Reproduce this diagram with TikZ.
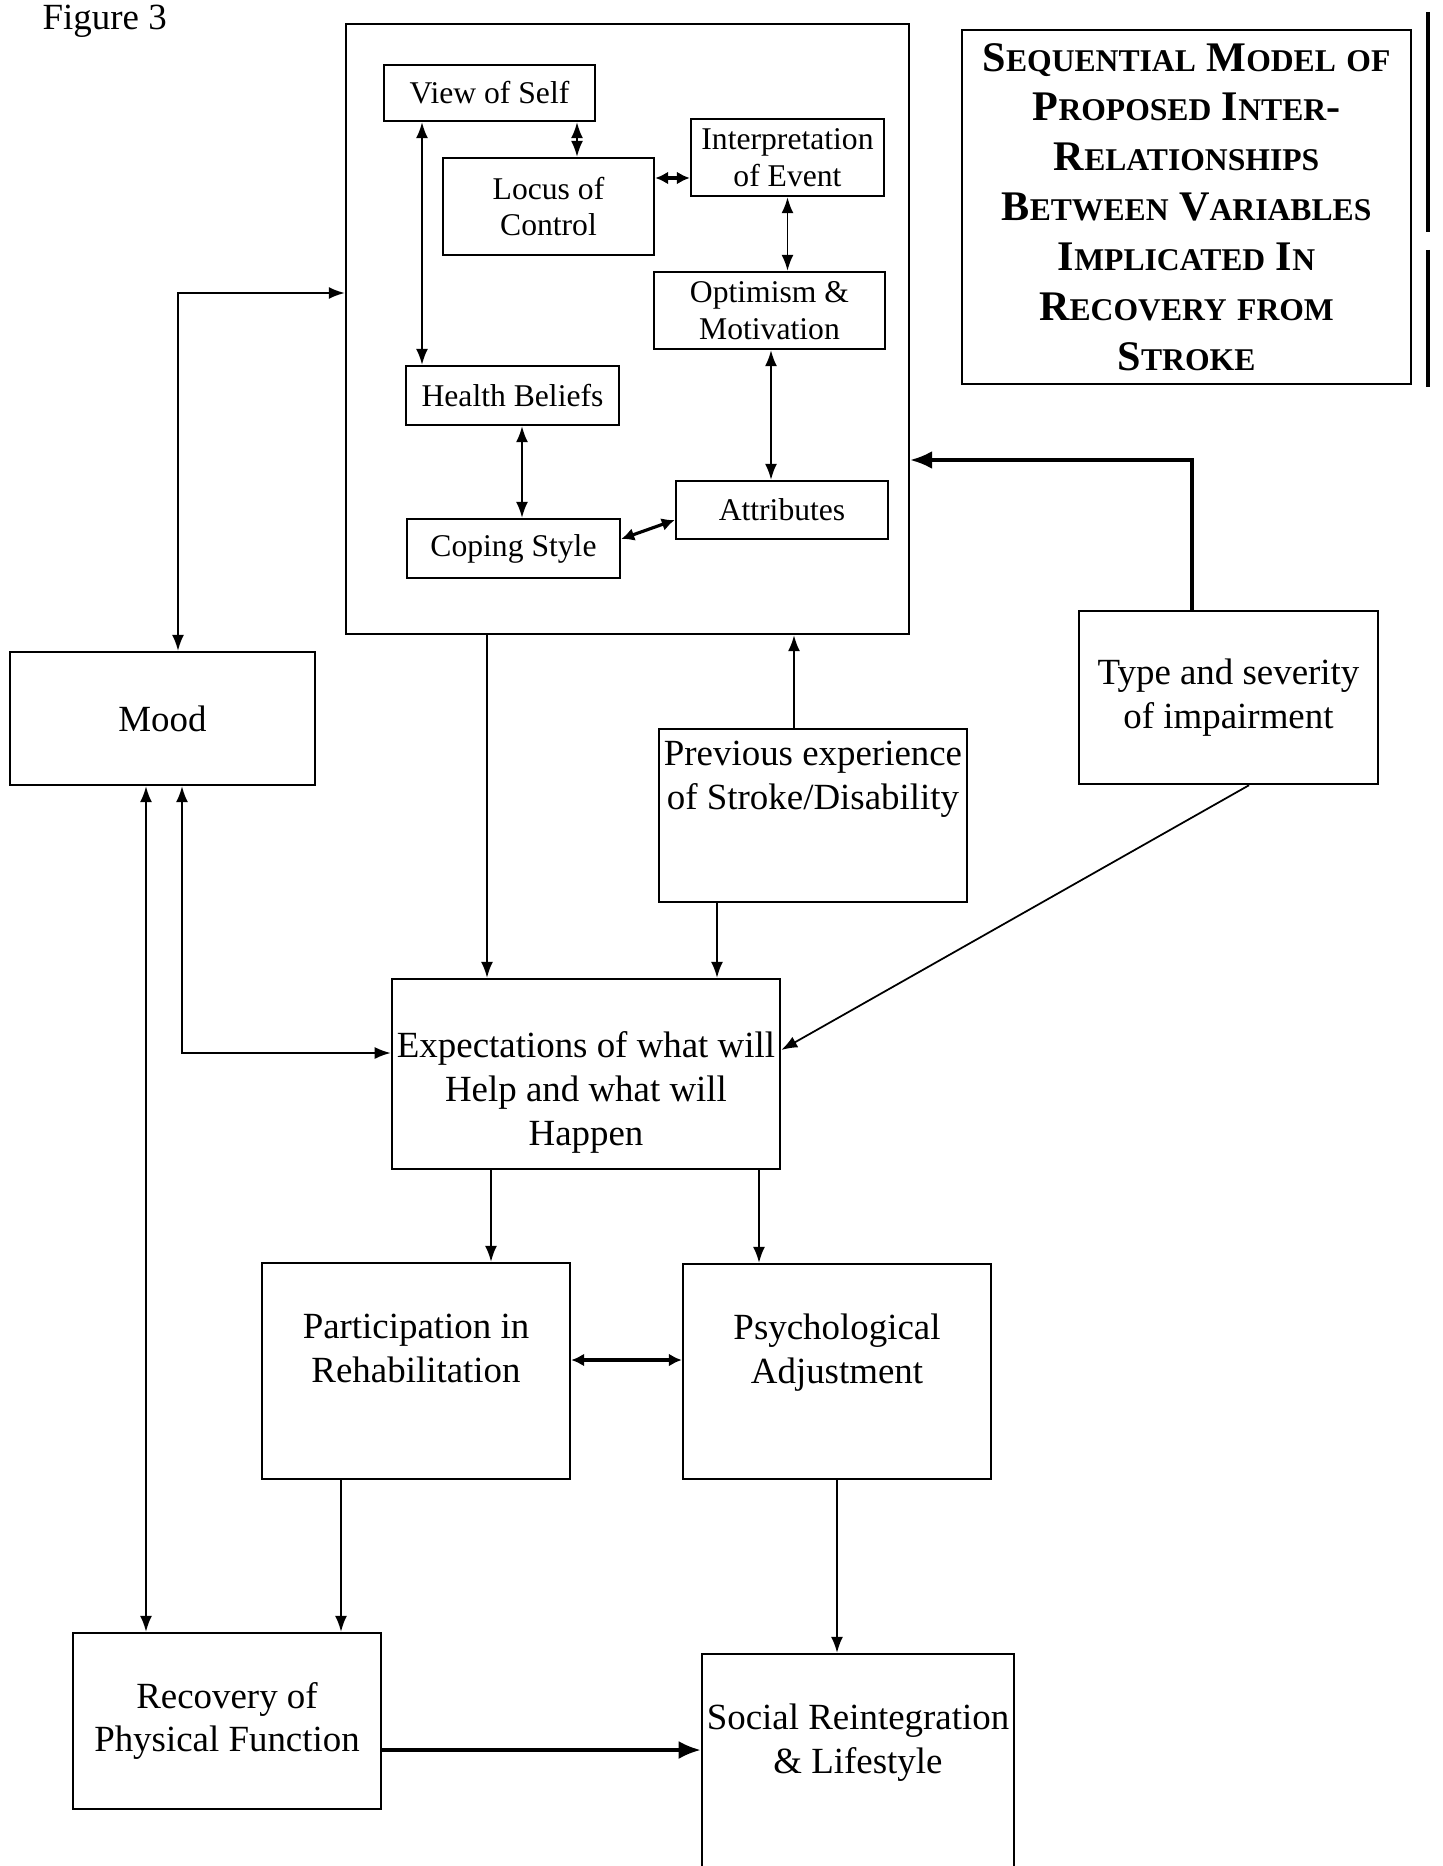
\documentclass[tikz,border=0pt]{standalone}
\usepackage{fontspec}
\setmainfont{Liberation Serif}
\usetikzlibrary{arrows.meta}
\newcommand{\tcap}[2]{{\fontsize{12}{14.2}\selectfont #1}{\fontsize{9}{14.2}\selectfont #2}}
\tikzset{
    boxbase/.style={draw=black, line width=0.7pt, align=center, inner sep=0.5mm},
    smallbox/.style={boxbase, rectangle, font=\fontsize{9}{10.5}\selectfont},
    bigbox/.style={boxbase, rectangle, font=\fontsize{10.5}{12.5}\selectfont},
    titlebox/.style={draw=black, line width=0.5pt, align=center, font=\bfseries\fontsize{12}{14.2}\selectfont},
    arrow-line/.style={draw=black, line width=0.5pt, -{Latex[length=1.6mm,width=1.2mm]}},
    both-line/.style={draw=black, line width=0.5pt, {Latex[length=1.6mm,width=1.2mm]}-{Latex[length=1.6mm,width=1.2mm]}},
    heavy-line/.style={draw=black, line width=0.9pt, -{Latex[length=2.2mm,width=1.8mm]}},
    heavy-both/.style={draw=black, line width=0.9pt, {Latex[length=1.3mm,width=1.3mm]}-{Latex[length=1.3mm,width=1.3mm]}}
}
\begin{document}
\begin{tikzpicture}[x=0.1mm, y=-0.1mm]
    \useasboundingbox (0,0) rectangle (1443,1866);
    \node [anchor=base west, inner sep=0pt, font=\fontsize{10.5}{12}\selectfont] (FigNum) at (42,30) {Figure 3};

    % beliefs frame and its inner boxes
    \node [boxbase, minimum width=56.3mm, minimum height=61mm] (Core) at (627.5,329) {};
    \node [smallbox, minimum width=21.1mm, minimum height=5.6mm] (Self) at (489.5,93) {View of Self};
    \node [smallbox, minimum width=21.1mm, minimum height=9.7mm] (Locus) at (548.5,206.5) {Locus of\\Control};
    \node [smallbox, minimum width=19.3mm, minimum height=7.7mm] (Interp) at (787.5,157.5) {Interpretation\\of Event};
    \node [smallbox, minimum width=23.1mm, minimum height=7.7mm] (Optim) at (769.5,310.5) {Optimism \&\\Motivation};
    \node [smallbox, minimum width=21.3mm, minimum height=5.9mm] (Health) at (512.5,395.5) {Health Beliefs};
    \node [smallbox, minimum width=21.3mm, minimum height=5.9mm] (Coping) at (513.5,548.5) {Coping Style};
    \node [smallbox, minimum width=21.2mm, minimum height=5.8mm] (Attrib) at (782,510) {Attributes};

    \draw [both-line] ([xshift=-6.75mm]Self.south) -- ([xshift=-6.75mm]Self.south |- Health.north);
    \draw [both-line] ([xshift=8.75mm]Self.south) -- ([xshift=8.75mm]Self.south |- Locus.north);
    \draw [heavy-both] ([yshift=2.85mm]Locus.east) -- ([yshift=2.85mm]Locus.east -| Interp.west);
    \draw [both-line] (Interp.south) -- (Interp.south |- Optim.north);
    \draw [both-line] ([xshift=0.15mm]Optim.south) -- ([xshift=0.15mm]Optim.south |- Attrib.north);
    \draw [both-line] ([xshift=0.95mm]Health.south) -- ([xshift=0.95mm]Health.south |- Coping.north);
    \draw [heavy-both] ([yshift=0.95mm]Coping.east) -- ([yshift=-1mm]Attrib.west);

    % title
    \node [titlebox, minimum width=44.9mm, minimum height=35.4mm] (Title) at (1186.5,207)
        {\tcap{S}{EQUENTIAL} \tcap{M}{ODEL} \tcap{}{OF}\\
         \tcap{P}{ROPOSED} \tcap{I}{NTER}-\\
         \tcap{R}{ELATIONSHIPS}\\
         \tcap{B}{ETWEEN} \tcap{V}{ARIABLES}\\
         \tcap{I}{MPLICATED} \tcap{I}{N}\\
         \tcap{R}{ECOVERY} \tcap{}{FROM}\\
         \tcap{S}{TROKE}};
    \draw [line width=1.3pt] (1428,12) -- (1428,232);
    \draw [line width=1.3pt] (1428,250) -- (1428,387);

    % outer boxes
    \node [bigbox, minimum width=30.5mm, minimum height=13.3mm] (Mood) at (162.5,718.5) {Mood};
    \node [bigbox, minimum width=29.9mm, minimum height=17.3mm] (Impair) at (1228.5,697.5) {Type and severity\\of impairment};
    \node [bigbox, minimum width=30.6mm, minimum height=17.3mm] (PrevExp) at (813,815.5)
        {Previous experience\\of Stroke/Disability\rule[-8mm]{0pt}{8mm}};
    \node [bigbox, minimum width=38.4mm, minimum height=19mm] (Expect) at (586,1074)
        {\rule{0pt}{6.3mm}Expectations of what will\\Help and what will\\Happen};
    \node [bigbox, minimum width=30.8mm, minimum height=21.6mm] (Partic) at (416,1371)
        {Participation in\\Rehabilitation\rule[-4.6mm]{0pt}{4.6mm}};
    \node [bigbox, minimum width=30.8mm, minimum height=21.5mm] (Psych) at (837,1371.5)
        {Psychological\\Adjustment\rule[-4.6mm]{0pt}{4.6mm}};
    \node [bigbox, minimum width=30.8mm, minimum height=17.6mm] (Recov) at (227,1721) {Recovery of\\Physical Function};
    \node [bigbox, minimum width=30.8mm, minimum height=25mm] (Social) at (858,1779)
        {Social Reintegration\\\& Lifestyle\rule[-8mm]{0pt}{8mm}};

    \draw [both-line] ([xshift=1.55mm]Mood.north) |- ([yshift=3.6mm]Core.west);
    \draw [arrow-line] ([xshift=-14.05mm]Core.south) -- ([xshift=-14.05mm]Core.south |- Expect.north);
    \draw [arrow-line] ([xshift=-1.9mm]PrevExp.north) -- ([xshift=-1.9mm]PrevExp.north |- Core.south);
    \draw [arrow-line] ([xshift=-9.6mm]PrevExp.south) -- ([xshift=-9.6mm]PrevExp.south |- Expect.north);
    \draw [heavy-line] ([xshift=-3.65mm]Impair.north) |- ([yshift=-13.1mm]Core.east);
    \draw [arrow-line] ([xshift=2.05mm]Impair.south) -- ([yshift=2.4mm]Expect.east);
    \draw [both-line] ([xshift=1.95mm]Mood.south) |- ([yshift=2.1mm]Expect.west);
    \draw [both-line] ([xshift=-1.65mm]Mood.south) -- ([xshift=-1.65mm]Mood.south |- Recov.north);
    \draw [arrow-line] ([xshift=-9.5mm]Expect.south) -- ([xshift=-9.5mm]Expect.south |- Partic.north);
    \draw [arrow-line] ([xshift=17.3mm]Expect.south) -- ([xshift=17.3mm]Expect.south |- Psych.north);
    \draw [heavy-both] ([yshift=1.1mm]Partic.east) -- ([yshift=1.1mm]Partic.east -| Psych.west);
    \draw [arrow-line] ([xshift=-7.5mm]Partic.south) -- ([xshift=-7.5mm]Partic.south |- Recov.north);
    \draw [arrow-line] (Psych.south) -- (Psych.south |- Social.north);
    \draw [heavy-line] ([yshift=-2.9mm]Recov.east) -- ([yshift=-2.9mm]Recov.east -| Social.west);
\end{tikzpicture}
\end{document}
